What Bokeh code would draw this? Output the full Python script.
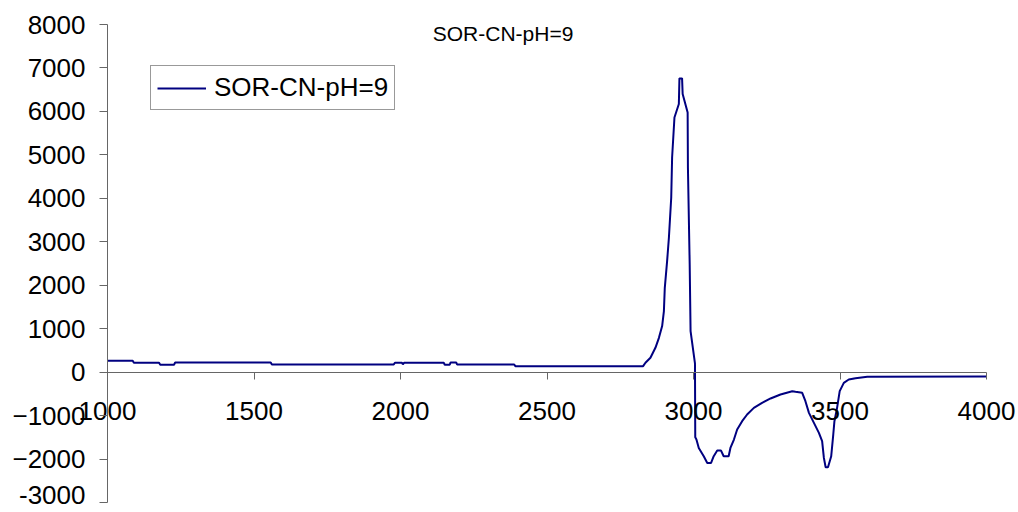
from bokeh.plotting import figure
from bokeh.models import Label, Range1d, FixedTicker, LinearAxis
from bokeh.embed import file_html
from bokeh.resources import INLINE

# ---- data ----
series_name = "SOR-CN-pH=9"
wavenumber = [1000, 1086, 1090, 1176, 1180, 1227, 1231, 1557, 1561, 1977, 1981, 2005, 2008, 2012,
              2148, 2151, 2168, 2171, 2190, 2193, 2388, 2392, 2828,
              2836, 2853, 2870, 2882, 2893, 2899, 2902, 2910, 2916, 2924, 2927, 2935, 2950, 2952,
              2961, 2963, 2980, 2981, 2987, 2990, 3005, 3006,
              3010, 3018, 3035, 3047, 3060, 3069, 3081, 3094, 3103, 3120, 3126, 3138, 3149, 3166,
              3183, 3206, 3234, 3263, 3297, 3337, 3348, 3371, 3382, 3394, 3411, 3428, 3439, 3445,
              3451, 3459, 3470, 3477, 3481, 3490, 3499, 3513, 3530, 3553, 3593, 4000]
intensity = [260, 260, 215, 215, 170, 170, 223, 223, 177, 177, 215, 215, 180, 215,
             215, 170, 170, 223, 223, 177, 177, 138, 138,
             215, 330, 560, 790, 1060, 1405, 1940, 2560, 3090, 4020, 4940, 5860, 6170, 6760,
             6760, 6400, 5975, 4700, 2480, 945, 200, -1500,
             -1550, -1744, -1935, -2090, -2090, -1935, -1805, -1805, -1935, -1935, -1744, -1551, -1320, -1129,
             -975, -822, -707, -606, -514, -438, -453, -476, -668, -937, -1167, -1398, -1590, -1974,
             -2189, -2189, -1935, -1436, -1129, -822, -438, -246, -169, -140, -105, -100]
x_ticks = [1000, 1500, 2000, 2500, 3000, 3500, 4000]
y_ticks = [-3000, -2000, -1000, 0, 1000, 2000, 3000, 4000, 5000, 6000, 7000, 8000]
x_bounds = (1000, 4000)
y_bounds = (-3000, 8000)

FONT = "Liberation Sans"
AXIS_COL = "#666666"

# the frame spans the whole canvas; the axes cross inside it (Excel style)
W, H = 1016, 510
px_x = 879.0 / (x_bounds[1] - x_bounds[0])   # pixels per x unit
px_y = 478.0 / (y_bounds[1] - y_bounds[0])   # pixels per y unit
x_range = Range1d(x_bounds[0] - 107 / px_x, x_bounds[1] + (W - 986) / px_x)
y_range = Range1d(y_bounds[0] - (H - 502) / px_y, y_bounds[1] + 24 / px_y)

p = figure(frame_width=W, frame_height=H, min_border=0,
           x_range=x_range, y_range=y_range,
           x_axis_location=None, y_axis_location=None,
           output_backend="svg", toolbar_location=None)
p.title = None
p.outline_line_color = None
p.xgrid.visible = False
p.ygrid.visible = False
p.background_fill_color = "white"
p.border_fill_color = "white"

p.line(wavenumber, intensity, line_color="#000080", line_width=2, legend_label=series_name)

xax = LinearAxis(fixed_location=0, bounds=x_bounds, ticker=FixedTicker(ticks=x_ticks))
xax.major_tick_in = 0
xax.major_tick_out = 7
xax.minor_tick_line_color = None
xax.axis_line_color = AXIS_COL
xax.major_tick_line_color = AXIS_COL
xax.major_label_text_font = FONT
xax.major_label_text_font_size = "26px"
xax.major_label_text_color = "black"
xax.major_label_standoff = 23
p.add_layout(xax, "below")

# lowest y label sits a little above its tick (as in the reference), so it is drawn as a Label
low_tick = y_ticks[0]
yax = LinearAxis(fixed_location=x_bounds[0], bounds=y_bounds, ticker=FixedTicker(ticks=y_ticks))
yax.major_tick_in = 0
yax.major_tick_out = 8
yax.minor_tick_line_color = None
yax.axis_line_color = AXIS_COL
yax.major_tick_line_color = AXIS_COL
yax.major_label_text_font = FONT
yax.major_label_text_font_size = "26px"
yax.major_label_text_color = "black"
yax.major_label_standoff = 14
yax.major_label_overrides = {low_tick: ""}
p.add_layout(yax, "left")

p.add_layout(Label(x=x_bounds[0], y=low_tick, text=str(low_tick), x_offset=-22, y_offset=8,
                   text_align="right", text_baseline="middle",
                   text_font=FONT, text_font_size="26px", text_color="black"))

title = Label(x=2350, y=7790, text=series_name, text_align="center", text_baseline="middle",
              text_font=FONT, text_font_size="21px", text_color="black")
p.add_layout(title)

lg = p.legend[0]
lg.location = (150, 400)
lg.border_line_color = "#333333"
lg.border_line_width = 1
lg.background_fill_alpha = 1
lg.label_text_font = FONT
lg.label_text_font_size = "26px"
lg.label_text_color = "black"
lg.glyph_width = 49
lg.label_standoff = 8
lg.padding = 6
lg.margin = 0
lg.spacing = 0

open("out.html", "w").write(file_html(p, INLINE))
